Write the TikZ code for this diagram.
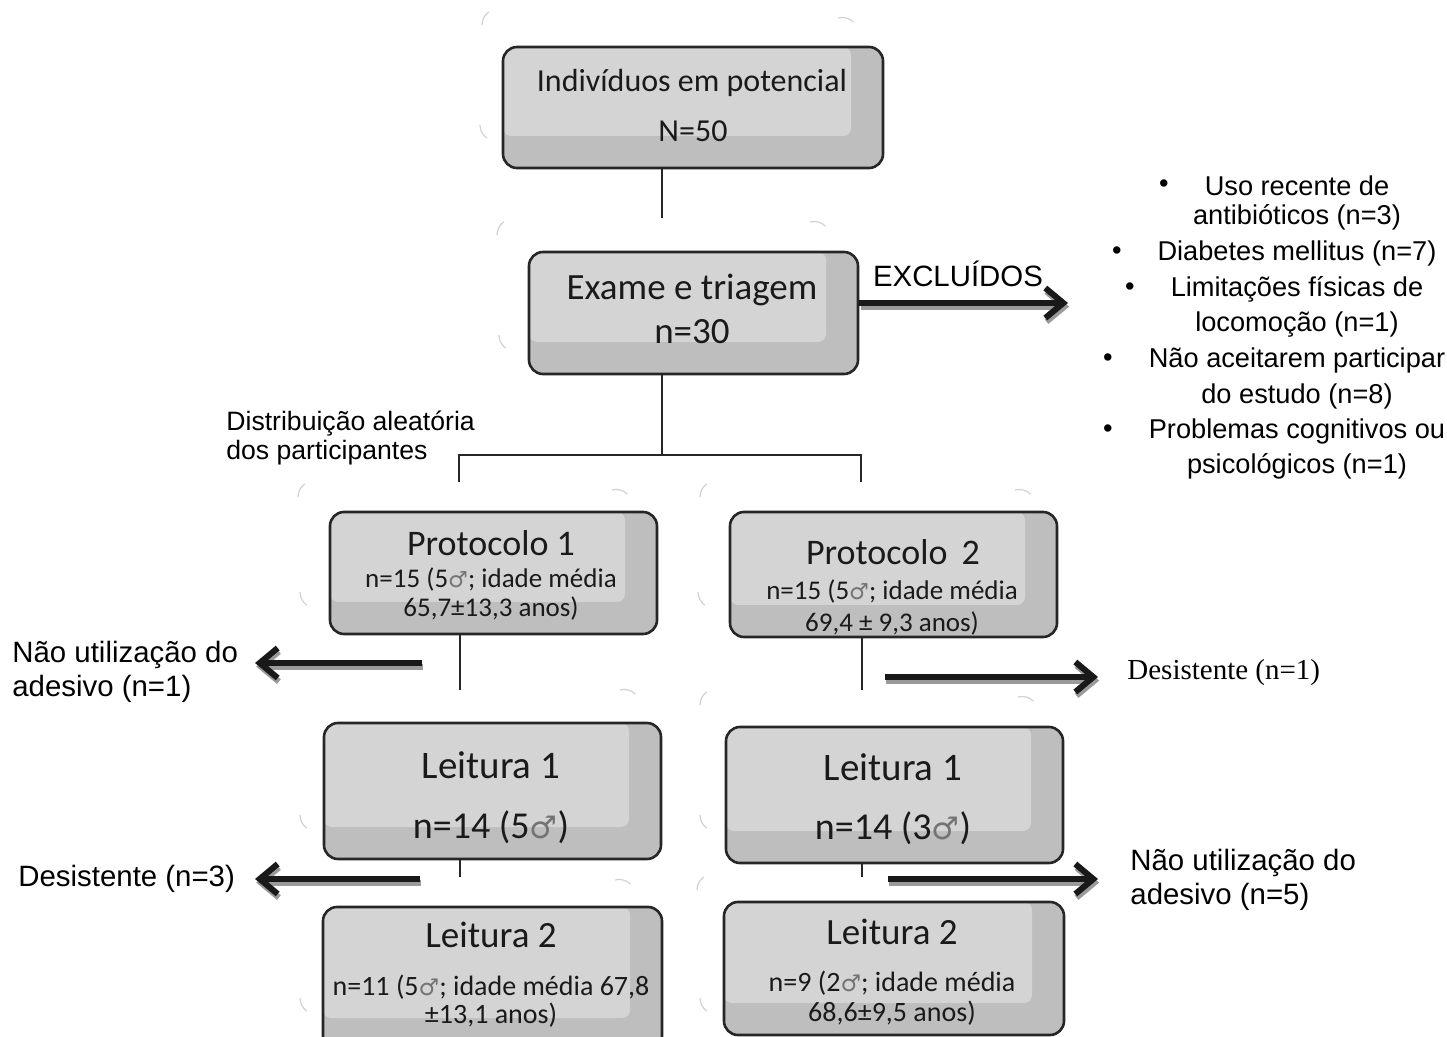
\documentclass[tikz,border=0pt]{standalone}
\usepackage{fontspec}
\setmainfont{Liberation Sans}
\newfontfamily\boxfont{Carlito}
\newfontfamily\tnrfont{Liberation Serif}
\newfontfamily\msymfont{DejaVu Sans}
\usetikzlibrary{arrows.meta}
\definecolor{boxdark}{HTML}{BEBEBE}
\definecolor{boxlight}{HTML}{D4D4D4}
\definecolor{boxline}{HTML}{262626}
\definecolor{shad}{HTML}{9A9A9A}
\definecolor{txt}{HTML}{1A1A1A}
\newcommand{\ms}{{\msymfont\fontsize{0.82em}{1em}\selectfont\color{black!55}♂}}
\newcommand{\shadarrow}[2]{%
  \draw[arsh] ([shift={(0.6pt,-1.8pt)}]#1) -- ([shift={(0.6pt,-1.8pt)}]#2);
  \draw[ar] (#1) -- (#2);}
\tikzset{
  bx/.style={draw=boxline, line width=1.3pt, fill=boxdark, rounded corners=7pt, inner sep=0pt,
    path picture={\fill[boxlight, rounded corners=4pt]
      (path picture bounding box.north west) rectangle
      ([shift={(-16pt,16pt)}]path picture bounding box.south east);}},
  bt/.style={text=txt, inner sep=0pt, font=\boxfont},
  lt/.style={text=black, inner sep=0pt, font=\fontsize{14.7}{17}\selectfont},
  conn/.style={draw=black!85, line width=1pt},
  ar/.style={draw=black!90, line width=3pt, -{Straight Barb[length=9pt,width=15pt]}},
  arsh/.style={draw=shad, line width=3pt, -{Straight Barb[length=9pt,width=15pt]}},
  faint/.style={draw=gray!35, line width=0.6pt},
}
\begin{document}
\begin{tikzpicture}[x=0.5pt,y=-0.5pt]
\useasboundingbox (0,0) rectangle (1447,1037);
\clip (0,0) rectangle (1447,1037);

% faint corner marks
\foreach \p in {(482,25),(497,235),(298,497),(700,497),(700,705),(697,890)}
  \draw[faint] \p arc[start angle=180,end angle=125,radius=8pt];
\foreach \p in {(838,18),(810,222),(612,490),(1015,490),(620,690),(1018,697),(615,880)}
  \draw[faint] \p arc[start angle=105,end angle=45,radius=8pt];
\foreach \p in {(480,125),(499,335),(300,592),(698,592),(300,815),(700,815),(300,998),(700,998)}
  \draw[faint] \p arc[start angle=180,end angle=235,radius=8pt];

% boxes
\node[bx, minimum width=190pt, minimum height=60.5pt] (top) at (693,107.5) {};
\node[bx, minimum width=164.5pt, minimum height=61pt] (exam) at (693.5,313) {};
\node[bx, minimum width=163.5pt, minimum height=61pt] (p1) at (493.5,573) {};
\node[bx, minimum width=163.5pt, minimum height=62.5pt] (p2) at (893.5,574.5) {};
\node[bx, minimum width=168.5pt, minimum height=68pt] (l1a) at (492.5,791) {};
\node[bx, minimum width=168.5pt, minimum height=68pt] (l1b) at (894.5,795) {};
\node[bx, minimum width=169.5pt, minimum height=71.5pt] (l2a) at (492.5,978.5) {};
\node[bx, minimum width=170pt, minimum height=66.5pt] (l2b) at (894,968.5) {};

% box texts
\node[bt, font=\boxfont\fontsize{16}{19}\selectfont] (t1a) at (692,83) {Indivíduos em potencial};
\node[bt, font=\boxfont\fontsize{16}{19}\selectfont] (t1b) at (693,131) {N=50};
\node[bt, font=\boxfont\fontsize{18.5}{22}\selectfont] (t2a) at (692,290) {Exame e triagem};
\node[bt, font=\boxfont\fontsize{18.5}{22}\selectfont] (t2b) at (692,332) {n=30};
\node[bt, font=\boxfont\fontsize{18}{21}\selectfont] (t3a) at (491,543) {Protocolo 1};
\node[bt, font=\boxfont\fontsize{13.5}{16}\selectfont] (t3b) at (491,580) {n=15 (5\ms; idade média};
\node[bt, font=\boxfont\fontsize{13.5}{16}\selectfont] (t3c) at (491,608) {65,7±13,3 anos)};
\node[bt, font=\boxfont\fontsize{18}{21}\selectfont] (t4a) at (893,552) {Protocolo\ \,2};
\node[bt, font=\boxfont\fontsize{13.5}{16}\selectfont] (t4b) at (892,592) {n=15 (5\ms; idade média};
\node[bt, font=\boxfont\fontsize{13.5}{16}\selectfont] (t4c) at (892,623) {69,4 ± 9,3 anos)};
\node[bt, font=\boxfont\fontsize{19.5}{23}\selectfont] (t5a) at (491,765) {Leitura 1};
\node[bt, font=\boxfont\fontsize{19}{23}\selectfont] (t5b) at (491,827) {n=14 (5\ms)};
\node[bt, font=\boxfont\fontsize{19.5}{23}\selectfont] (t6a) at (893,767) {Leitura 1};
\node[bt, font=\boxfont\fontsize{19}{23}\selectfont] (t6b) at (893,828) {n=14 (3\ms)};
\node[bt, font=\boxfont\fontsize{18.5}{22}\selectfont] (t7a) at (491,935) {Leitura 2};
\node[bt, font=\boxfont\fontsize{14}{17}\selectfont] (t7b) at (491,987) {n=11 (5\ms; idade média 67,8};
\node[bt, font=\boxfont\fontsize{14}{17}\selectfont] (t7c) at (491,1015) {±13,1 anos)};
\node[bt, font=\boxfont\fontsize{18.5}{22}\selectfont] (t8a) at (892,932) {Leitura 2};
\node[bt, font=\boxfont\fontsize{14}{17}\selectfont] (t8b) at (892,983) {n=9 (2\ms; idade média};
\node[bt, font=\boxfont\fontsize{14}{17}\selectfont] (t8c) at (892,1013) {68,6±9,5 anos)};

% connectors
\coordinate (j1) at (662,218);
\draw[conn] (top.south -| j1) -- (j1);
\coordinate (bm) at (662,455);
\coordinate (bl) at (459,482);
\coordinate (br) at (861,482);
\draw[conn] (exam.south -| bm) -- (bm);
\draw[conn] (bl) |- (bm) -| (br);
\coordinate (p1e) at (460,690);
\draw[conn] (p1.south -| p1e) -- (p1e);
\coordinate (p2e) at (862,690);
\draw[conn] (p2.south -| p2e) -- (p2e);
\coordinate (l1e) at (460,877);
\draw[conn] (l1a.south -| l1e) -- (l1e);
\coordinate (r1e) at (862,877);
\draw[conn] (l1b.south -| r1e) -- (r1e);

% arrows
\coordinate (exy) at (858,303);
\coordinate (exA) at (exam.east |- exy);
\coordinate (exB) at (1068,303);
\shadarrow{exA}{exB}
\coordinate (a1s) at (422,663); \coordinate (a1t) at (255,663);
\shadarrow{a1s}{a1t}
\coordinate (a2s) at (885,677); \coordinate (a2t) at (1098,677);
\shadarrow{a2s}{a2t}
\coordinate (a3s) at (420,879); \coordinate (a3t) at (255,879);
\shadarrow{a3s}{a3t}
\coordinate (a4s) at (888,879); \coordinate (a4t) at (1098,879);
\shadarrow{a4s}{a4t}

% outside labels
\node[lt, anchor=center] (excl) at (958,274) {EXCLUÍDOS};
\node[lt, anchor=west, align=left, font=\fontsize{13.3}{14.5}\selectfont] (dist) at (226,438) {Distribuição aleatória\\dos participantes};
\node[lt, anchor=west, align=left] (nu1) at (12,672) {Não utilização do\\adesivo (n=1)};
\node[lt, anchor=west] (des3) at (18,879) {Desistente (n=3)};
\node[lt, anchor=west, align=left] (nu5) at (1130,880) {Não utilização do\\adesivo (n=5)};
\node[lt, anchor=west, font=\tnrfont\fontsize{14.5}{17}\selectfont] (des1) at (1127,673) {Desistente (n=1)};

% exclusion list
\begin{scope}[every node/.style={lt, font=\fontsize{13.6}{16}\selectfont}]
\node (e1) at (1297,186) {Uso recente de};
\node (e2) at (1297,217) {antibióticos (n=3)};
\node (e3) at (1297,253) {Diabetes mellitus (n=7)};
\node (e4) at (1297,289) {Limitações físicas de};
\node (e5) at (1297,325) {locomoção (n=1)};
\node (e6) at (1297,360) {Não aceitarem participar};
\node (e7) at (1297,396) {do estudo (n=8)};
\node (e8) at (1297,431) {Problemas cognitivos ou};
\node (e9) at (1297,466) {psicológicos (n=1)};
\node (b1) at (1164,186) {•};
\node (b3) at (1117,253) {•};
\node (b4) at (1130,289) {•};
\node (b6) at (1108,360) {•};
\node (b8) at (1108,431) {•};
\end{scope}
\end{tikzpicture}
\end{document}
